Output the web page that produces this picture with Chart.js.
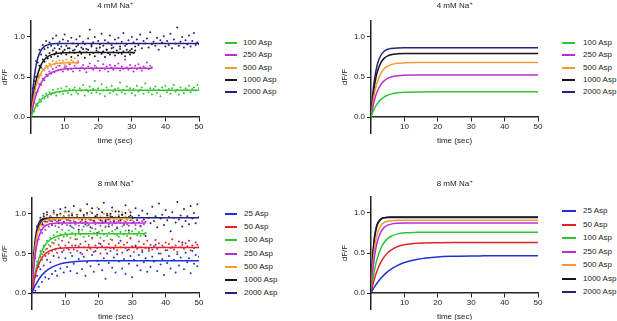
<!DOCTYPE html>
<html lang="en">
<head>
<meta charset="UTF-8">
<title>Asp binding | dF/F time courses</title>
<script src="https://cdn.jsdelivr.net/npm/chart.js"></script>
<style>
  body { margin: 0; background: #fff; font-family: Arial, "Liberation Sans", sans-serif; }
  #wrap { position: relative; width: 617px; height: 321px; overflow: hidden; }
  #wrap canvas { position: absolute; }
  .legend { position: absolute; left: 0; top: 0; font-size: 8px; color: #222; }
  .legend div { position: absolute; white-space: nowrap; height: 10px; line-height: 10px; }
  .legend span { position: absolute; left: 0; top: 4px; height: 2px; }
</style>
</head>
<body>
<div id="wrap">
  <canvas id="c4dots" width="210" height="150" style="left:0;top:0"></canvas>
  <canvas id="c4sim" width="210" height="150" style="left:340px;top:0"></canvas>
  <canvas id="c8dots" width="210" height="160" style="left:0;top:160px"></canvas>
  <canvas id="c8sim" width="210" height="160" style="left:340px;top:160px"></canvas>
</div>
<script>
// time grid for the curves (sec)
const curveT = [0, 0.5, 1, 1.5, 2, 3, 4, 5, 6, 8, 10, 14, 20, 25, 30, 31, 34, 36, 40, 50];
const dotStep = 0.5; // sampling interval of the measured points (sec)
const xTicks = [10, 20, 30, 40, 50];
const yTicks = [0, 0.5, 1];

const names4 = ['100 Asp', '250 Asp', '500 Asp', '1000 Asp', '2000 Asp'];
const colors4 = ['#33c433', '#b92fd2', '#f59a32', '#151515', '#23237e'];
const names8 = ['25 Asp', '50 Asp', '100 Asp', '250 Asp', '500 Asp', '1000 Asp', '2000 Asp'];
const colors8 = ['#1e32d8', '#e0262b', '#33c433', '#b92fd2', '#f59a32', '#151515', '#23237e'];

// 4 mM Na+ : measured points
const dots4_100 = [0.01,0.08,0.07,0.16,0.14,0.22,0.19,0.27,0.23,0.29,0.25,0.31,0.28,0.34,0.30,0.27,0.35,0.31,0.36,0.29,0.33,
  0.38,0.30,0.35,0.28,0.34,0.37,0.31,0.29,0.36,0.33,0.40,0.27,0.34,0.32,0.38,0.30,0.35,0.45,0.31,0.36,
  0.29,0.41,0.33,0.26,0.37,0.34,0.30,0.39,0.32,0.35,0.28,0.36,0.43,0.31,0.34,0.29,0.38,0.33,0.36,0.30,
  0.35,0.27,0.39,0.32,0.34,0.37,0.29,0.42,0.33,0.31,0.36,0.28,0.35,0.38,0.30,0.34,0.26,0.37,0.33,0.39,
  0.31,0.35,0.29,0.36,0.40,0.32,0.34,0.28,0.37,0.33,0.30,0.36,0.34,0.39,0.31,0.35,0.37,0.33,0.40,0.36];
const dots4_250 = [0.02,0.14,0.18,0.30,0.32,0.41,0.40,0.48,0.46,0.53,0.51,0.57,0.54,0.60,0.56,0.62,0.58,0.64,0.59,0.57,0.62,
  0.63,0.59,0.66,0.60,0.57,0.64,0.61,0.68,0.58,0.62,0.65,0.60,0.56,0.63,0.67,0.61,0.59,0.64,0.62,0.70,
  0.58,0.61,0.66,0.60,0.63,0.57,0.65,0.62,0.59,0.64,0.61,0.67,0.58,0.63,0.60,0.72,0.62,0.59,0.65,0.61,
  0.57,0.64,0.60,0.66,0.62,0.58,0.63,0.61,0.68,0.60,0.64,0.62];
const dots4_500 = [0.03,0.20,0.26,0.41,0.43,0.53,0.52,0.60,0.58,0.64,0.61,0.67,0.63,0.70,0.66,0.69,0.64,0.71,0.67,0.70,
  0.65,0.72,0.68,0.66,0.71,0.69,0.73,0.67,0.70];
const dots4_1000 = [0.02,0.24,0.30,0.50,0.51,0.64,0.62,0.72,0.69,0.77,0.73,0.80,0.75,0.83,0.78,0.81,0.76,0.85,0.79,0.82,0.84,
  0.78,0.86,0.81,0.75,0.83,0.80,0.88,0.77,0.82,0.79,0.85,0.74,0.81,0.84,0.78,0.90,0.80,0.76,0.83,0.81,
  0.87,0.79,0.82,0.75,0.84,0.80,0.78,0.86,0.81,0.77,0.83,0.80,0.88,0.79,0.82,0.76,0.84,0.81,0.78,0.85,
  0.80,0.83];
const dots4_2000 = [0.03,0.36,0.45,0.70,0.68,0.84,0.78,0.90,0.85,0.95,0.87,0.93,0.89,0.98,0.86,1.02,0.90,0.94,0.88,0.97,1.03,
  0.89,0.95,0.86,0.99,0.92,0.84,0.97,0.90,1.01,0.87,0.94,0.91,0.85,0.98,1.09,0.88,0.93,1.00,0.86,0.95,
  0.91,1.04,0.89,0.96,0.84,0.93,1.02,0.90,0.87,0.97,0.92,0.99,0.85,0.94,1.05,0.89,0.91,0.96,0.83,1.00,
  0.93,0.88,0.97,0.90,1.03,0.86,0.95,0.92,0.98,0.87,1.06,0.91,0.94,0.89,0.99,0.84,0.96,0.93,1.01,0.88,
  0.95,0.90,1.04,0.86,0.97,0.92,1.12,0.89,0.94,1.00,0.87,0.96,0.91,1.02,0.88,0.95,1.05,0.90,0.93,0.91];

// 4 mM Na+ : fitted curves (on curveT)
const fit4_100 = [0,0.054,0.099,0.137,0.168,0.218,0.252,0.277,0.294,0.315,0.325,0.333,0.335,0.335,0.335,0.335,0.335,0.335,0.335,0.335];
const fit4_250 = [0,0.110,0.201,0.275,0.336,0.426,0.487,0.528,0.555,0.585,0.599,0.608,0.61,0.61,0.61,0.61,0.61,0.61];
const fit4_500 = [0,0.163,0.288,0.382,0.454,0.549,0.605,0.636,0.655,0.672,0.677,0.68];
const fit4_1000 = [0,0.194,0.341,0.454,0.538,0.652,0.717,0.755,0.777,0.797,0.804,0.807,0.807,0.807,0.807,0.807];
const fit4_2000 = [0,0.304,0.507,0.643,0.734,0.836,0.882,0.903,0.913,0.918,0.92,0.92,0.92,0.92,0.92,0.92,0.92,0.92,0.92,0.92];

// 4 mM Na+ : model curves
const sim4_100 = [0,0.057,0.104,0.142,0.174,0.220,0.251,0.272,0.286,0.302,0.309,0.314,0.315,0.315,0.315,0.315,0.315,0.315,0.315,0.315];
const sim4_250 = [0,0.116,0.207,0.277,0.332,0.408,0.454,0.482,0.499,0.515,0.521,0.525,0.525,0.525,0.525,0.525,0.525,0.525,0.525,0.525];
const sim4_500 = [0,0.163,0.288,0.382,0.454,0.549,0.605,0.636,0.655,0.672,0.677,0.68,0.68,0.68,0.68,0.68,0.68,0.68,0.68,0.68];
const sim4_1000 = [0,0.221,0.380,0.495,0.578,0.682,0.736,0.764,0.779,0.790,0.795,0.795,0.795,0.795,0.795,0.795,0.795,0.795,0.795,0.795];
const sim4_2000 = [0,0.271,0.457,0.584,0.673,0.775,0.823,0.846,0.856,0.864,0.866,0.866,0.866,0.866,0.866,0.866,0.866,0.866,0.866,0.866];

// 8 mM Na+ : measured points
const dots8_25 = [0.02,0.10,0.03,0.22,0.08,0.30,0.14,0.35,0.20,0.42,0.18,0.39,0.24,0.47,0.28,0.22,0.45,0.31,0.52,0.26,0.44,
  0.33,0.55,0.28,0.47,0.37,0.60,0.25,0.43,0.51,0.30,0.46,0.22,0.39,0.58,0.34,0.48,0.27,0.53,0.41,0.36,
  0.62,0.29,0.44,0.18,0.50,0.38,0.57,0.32,0.45,0.26,0.49,0.40,0.66,0.31,0.43,0.24,0.54,0.37,0.47,0.20,
  0.42,0.59,0.35,0.48,0.29,0.52,0.39,0.44,0.27,0.56,0.33,0.46,0.40,0.61,0.28,0.50,0.36,0.43,0.23,0.54,
  0.38,0.47,0.31,0.58,0.42,0.26,0.49,0.35,0.45,0.64,0.30,0.51,0.39,0.44,0.25,0.53,0.37,0.48,0.34,0.46];
const dots8_50 = [0.03,0.17,0.20,0.35,0.33,0.46,0.42,0.52,0.47,0.56,0.50,0.59,0.53,0.63,0.55,0.51,0.61,0.58,0.66,0.54,0.60,
  0.57,0.64,0.51,0.60,0.55,0.68,0.53,0.59,0.62,0.49,0.58,0.65,0.54,0.61,0.56,0.70,0.52,0.60,0.57,0.63,
  0.50,0.59,0.66,0.55,0.58,0.62,0.53,0.67,0.56,0.60,0.54,0.63,0.58,0.51,0.61,0.57,0.64,0.55,0.69,0.59,
  0.52,0.60,0.56,0.65,0.58,0.54,0.62,0.57,0.66,0.53,0.61,0.55,0.59,0.67,0.56,0.63,0.50,0.60,0.58,0.64,
  0.54,0.62,0.57,0.68,0.55,0.60,0.52,0.65,0.58,0.61,0.56,0.63,0.59,0.66,0.54,0.60,0.57,0.64,0.61,0.58];
const dots8_100 = [0.04,0.19,0.22,0.40,0.38,0.53,0.49,0.60,0.55,0.66,0.61,0.70,0.64,0.73,0.67,0.77,0.69,0.74,0.80,0.71,0.76,
  0.72,0.79,0.70,0.76,0.82,0.73,0.68,0.77,0.74,0.80,0.71,0.75,0.85,0.72,0.78,0.69,0.76,0.81,0.73,0.77,
  0.70,0.79,0.74,0.83,0.72,0.76,0.68,0.78,0.75,0.80,0.73,0.71,0.77,0.84,0.74,0.79,0.72,0.76,0.70,0.78,
  0.75,0.81,0.73,0.77,0.72,0.79,0.74,0.76];
const dots8_250 = [0.05,0.33,0.44,0.66,0.68,0.80,0.76,0.86,0.80,0.90,0.84,0.91,0.86,0.93,0.85,0.90,0.83,0.92,0.87,0.89,0.94,
  0.86,0.92,0.88,0.83,0.91,0.87,0.95,0.85,0.90,0.88,0.84,0.93,0.89,0.86,0.92,0.82,0.90,0.87,0.96,0.88,
  0.85,0.91,0.89,0.84,0.93,0.87,0.90,0.86,0.92,0.88,0.83,0.91,0.89,0.94,0.86,0.90,0.87,0.85,0.92,0.88,
  0.90,0.86,0.93,0.89,0.84,0.91,0.87,0.90];
const dots8_500 = [0.06,0.42,0.55,0.77,0.79,0.90,0.85,0.95,0.89,0.98,0.91,0.96,0.92,1.00,0.93,0.97,0.90,0.99,0.94,0.96,1.02,
  0.92,0.97,0.90,1.01,0.94,0.88,0.98,0.93,1.06,0.91,0.96,0.89,0.99,0.94,1.03,0.92,0.95,0.90,1.08,0.93,
  0.97,0.91,1.00,0.95,0.89,0.98,0.93,1.04,0.92,0.96,0.90,0.99,0.94,1.02,0.91,0.97,0.93,1.05,0.95,0.92];
const dots8_1000 = [0.04,0.45,0.58,0.80,0.82,0.92,0.87,0.97,0.90,0.99,0.93,0.96,0.91,1.01,0.94,0.98,0.92,1.00,0.95,0.97,1.03,
  0.93,0.98,0.91,1.00,0.95,0.89,0.99,0.94,1.04,0.92,0.97,0.90,1.01,0.95,0.93,1.07,0.91,0.96,0.99,0.94,
  0.92,1.02,0.95,0.90,0.98,0.93,1.00,0.96,0.91,1.03,0.94,0.97,0.92,0.99,0.95,1.01,0.93,0.96,0.98,0.94];
const dots8_2000 = [0.05,0.50,0.62,0.84,0.83,0.95,0.88,1.00,0.90,1.02,0.93,0.97,0.86,1.04,0.92,0.99,0.88,1.06,0.94,0.90,1.08,
  0.92,1.03,0.85,0.98,1.10,0.89,0.96,0.80,1.05,0.93,0.99,0.87,1.12,0.94,0.83,1.01,0.91,0.97,0.76,1.06,
  0.95,0.88,1.14,0.92,1.00,0.84,0.97,1.08,0.90,0.95,0.82,1.03,0.93,0.99,0.87,1.11,0.94,0.79,1.02,0.96,
  0.89,1.07,0.92,0.98,0.85,1.04,0.93,0.72,1.00,0.95,0.88,1.09,0.91,0.97,0.83,1.13,0.94,0.99,0.86,1.05,
  0.92,0.96,0.78,1.02,0.95,0.89,1.15,0.93,0.98,0.84,1.06,0.91,0.97,0.87,1.10,0.94,1.01,0.88,1.12,0.96];

// 8 mM Na+ : fitted curves
const fit8_25 = [0,0.052,0.097,0.137,0.171,0.228,0.271,0.304,0.329,0.363,0.382,0.401,0.408,0.41,0.41,0.41,0.41,0.41,0.41,0.41];
const fit8_50 = [0,0.127,0.226,0.304,0.363,0.447,0.497,0.528,0.546,0.565,0.571,0.575,0.575,0.575,0.575,0.575,0.575,0.575,0.575,0.575];
const fit8_100 = [0,0.142,0.257,0.350,0.426,0.537,0.610,0.658,0.690,0.724,0.739,0.748,0.75,0.75,0.75,0.75,0.75];
const fit8_250 = [0,0.292,0.488,0.619,0.707,0.805,0.850,0.870,0.879,0.884,0.886,0.886,0.886,0.886,0.886,0.886,0.886];
const fit8_500 = [0,0.370,0.594,0.730,0.813,0.893,0.923,0.934,0.938,0.94,0.94,0.94,0.94,0.94,0.94];
const fit8_1000 = [0,0.400,0.630,0.764,0.840,0.910,0.934,0.941,0.945,0.945,0.945,0.945,0.945,0.945,0.945];
const fit8_2000 = [0,0.454,0.691,0.815,0.880,0.931,0.945,0.949,0.95,0.95,0.95,0.95,0.95,0.95,0.95,0.95,0.95,0.95,0.95,0.95];

// 8 mM Na+ : model curves
const sim8_25 = [0,0.038,0.073,0.105,0.134,0.187,0.230,0.267,0.298,0.346,0.381,0.423,0.451,0.459,0.463,0.463,0.465,0.465,0.466,0.466];
const sim8_50 = [0,0.093,0.173,0.240,0.298,0.389,0.455,0.503,0.537,0.581,0.604,0.623,0.629,0.63,0.63,0.63,0.63,0.63,0.63,0.63];
const sim8_100 = [0,0.153,0.275,0.373,0.451,0.563,0.634,0.680,0.709,0.739,0.752,0.758,0.76,0.76,0.76,0.76,0.76,0.76,0.76,0.76];
const sim8_250 = [0,0.258,0.440,0.568,0.658,0.767,0.821,0.848,0.861,0.871,0.874,0.874,0.874,0.874,0.874,0.874,0.874,0.874,0.874,0.874];
const sim8_500 = [0,0.329,0.539,0.673,0.758,0.847,0.883,0.898,0.904,0.908,0.908,0.908,0.908,0.908,0.908,0.908,0.908,0.908,0.908,0.908];
const sim8_1000 = [0,0.429,0.664,0.793,0.864,0.924,0.942,0.948,0.95,0.95,0.95,0.95,0.95,0.95,0.95,0.95,0.95,0.95,0.95,0.95];
const sim8_2000 = [0,0.452,0.687,0.811,0.875,0.926,0.939,0.944,0.945,0.945,0.945,0.945,0.945,0.945,0.945,0.945,0.945,0.945,0.945,0.945];

Chart.defaults.font.family = 'Arial, "Liberation Sans", sans-serif';
Chart.defaults.color = '#222';

const toCurve = vals => vals.map((y, i) => ({ x: curveT[i], y }));
const toDots = vals => vals.map((y, i) => ({ x: i * dotStep, y }));

function curveSet(vals, color) {
  return { data: toCurve(vals), showLine: true, borderColor: color, borderWidth: 1.5,
           pointRadius: 0, cubicInterpolationMode: 'monotone', order: 0 };
}
function dotSet(vals, color) {
  return { data: toDots(vals), showLine: false, backgroundColor: color, borderWidth: 0,
           pointRadius: 1, order: 1 };
}

// small "4 mM Na+" heading with a raised plus
const panelTitle = {
  id: 'panelTitle',
  afterDraw(chart, args, opts) {
    const { ctx, chartArea } = chart;
    const fam = Chart.defaults.font.family;
    ctx.save();
    ctx.fillStyle = '#222';
    ctx.textBaseline = 'middle';
    ctx.font = '8px ' + fam;
    const w1 = ctx.measureText(opts.text).width;
    ctx.font = '5.5px ' + fam;
    const w2 = ctx.measureText('+').width;
    const x0 = (chartArea.left + chartArea.right) / 2 - (w1 + w2) / 2;
    ctx.font = '8px ' + fam;
    ctx.fillText(opts.text, x0, opts.y);
    ctx.font = '5.5px ' + fam;
    ctx.fillText('+', x0 + w1 + 0.5, opts.y - 3);
    ctx.restore();
  }
};

function makePanel(id, title, titleY, datasets, yWidth, pad) {
  const axisGrid = { drawOnChartArea: false, tickLength: 4, color: '#222', lineWidth: 1 };
  const axisBorder = { color: '#222', width: 1.5 };
  return new Chart(document.getElementById(id), {
    type: 'scatter',
    data: { datasets },
    plugins: [panelTitle],
    options: {
      responsive: false,
      animation: false,
      layout: { padding: pad },
      plugins: { legend: { display: false }, tooltip: { enabled: false },
                 panelTitle: { text: title, y: titleY } },
      scales: {
        x: {
          type: 'linear', min: 0, max: 50, position: { y: 0 },
          afterBuildTicks: s => { s.ticks = xTicks.map(v => ({ value: v })); },
          grid: axisGrid, border: axisBorder,
          ticks: { font: { size: 8 }, padding: 1, maxRotation: 0 },
          title: { display: true, text: 'time (sec)', font: { size: 8 }, padding: { top: 3, bottom: 0 } }
        },
        y: {
          min: -0.2, max: 1.2,
          afterBuildTicks: s => { s.ticks = yTicks.map(v => ({ value: v })); },
          afterFit: s => { s.width = yWidth; },
          grid: axisGrid, border: axisBorder,
          ticks: { font: { size: 8 }, padding: 2, callback: v => v.toFixed(1) },
          title: { display: true, text: 'dF/F', font: { size: 8 }, padding: { top: 0, bottom: 0 } }
        }
      }
    }
  });
}

function addLegend(names, colors, pos) {
  const box = document.createElement('div');
  box.className = 'legend';
  names.forEach((name, i) => {
    const row = document.createElement('div');
    row.style.left = pos.x + 'px';
    row.style.top = (pos.y + i * pos.step - 5) + 'px';
    row.style.paddingLeft = pos.gap + 'px';
    row.innerHTML = `<span style="width:${pos.w}px;background:${colors[i]}"></span>${name}`;
    box.appendChild(row);
  });
  document.getElementById('wrap').appendChild(box);
}

makePanel('c4dots', '4 mM Na', 6, [
  curveSet(fit4_100, colors4[0]), curveSet(fit4_250, colors4[1]), curveSet(fit4_500, colors4[2]),
  curveSet(fit4_1000, colors4[3]), curveSet(fit4_2000, colors4[4]),
  dotSet(dots4_100, colors4[0]), dotSet(dots4_250, colors4[1]), dotSet(dots4_500, colors4[2]),
  dotSet(dots4_1000, colors4[3]), dotSet(dots4_2000, colors4[4])
], 31, { top: 21, right: 11, bottom: 17, left: 0 });

makePanel('c4sim', '4 mM Na', 6, [
  curveSet(sim4_100, colors4[0]), curveSet(sim4_250, colors4[1]), curveSet(sim4_500, colors4[2]),
  curveSet(sim4_1000, colors4[3]), curveSet(sim4_2000, colors4[4])
], 31, { top: 21, right: 12, bottom: 17, left: 0 });

makePanel('c8dots', '8 mM Na', 24, [
  curveSet(fit8_25, colors8[0]), curveSet(fit8_50, colors8[1]), curveSet(fit8_100, colors8[2]),
  curveSet(fit8_250, colors8[3]), curveSet(fit8_500, colors8[4]), curveSet(fit8_1000, colors8[5]),
  curveSet(fit8_2000, colors8[6]),
  dotSet(dots8_25, colors8[0]), dotSet(dots8_50, colors8[1]), dotSet(dots8_100, colors8[2]),
  dotSet(dots8_250, colors8[3]), dotSet(dots8_500, colors8[4]), dotSet(dots8_1000, colors8[5]),
  dotSet(dots8_2000, colors8[6])
], 32, { top: 38, right: 11, bottom: 11, left: 0 });

makePanel('c8sim', '8 mM Na', 24, [
  curveSet(sim8_25, colors8[0]), curveSet(sim8_50, colors8[1]), curveSet(sim8_100, colors8[2]),
  curveSet(sim8_250, colors8[3]), curveSet(sim8_500, colors8[4]), curveSet(sim8_1000, colors8[5]),
  curveSet(sim8_2000, colors8[6])
], 31, { top: 37, right: 12, bottom: 11, left: 0 });

addLegend(names4, colors4, { x: 225, y: 43, step: 12.3, w: 12, gap: 18 });
addLegend(names4, colors4, { x: 562, y: 43, step: 12.3, w: 13, gap: 21 });
addLegend(names8, colors8, { x: 225, y: 214, step: 13.2, w: 12, gap: 19 });
addLegend(names8, colors8, { x: 562, y: 211, step: 13.5, w: 14, gap: 21 });
</script>
</body>
</html>
